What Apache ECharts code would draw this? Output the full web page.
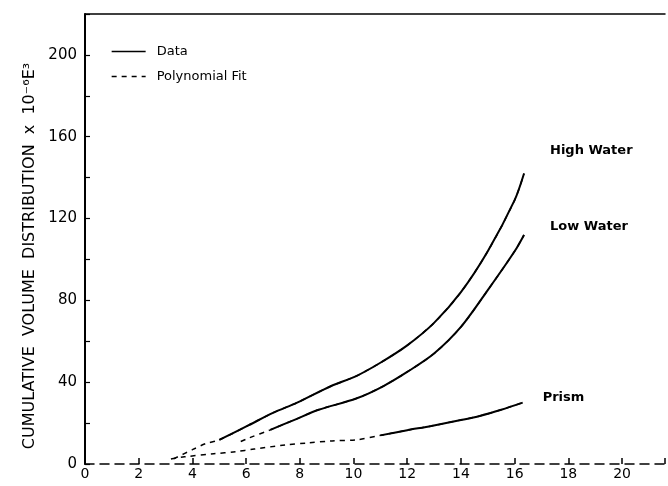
<!DOCTYPE html>
<html>
<head>
<meta charset="utf-8">
<script src="https://cdn.jsdelivr.net/npm/echarts@6/dist/echarts.min.js"></script>
<style>html,body{margin:0;padding:0;background:#fff}#c{width:668px;height:486px}</style>
</head>
<body>
<div id="c"></div>
<script>
// Axis tick values
const xTicks = [0, 2, 4, 6, 8, 10, 12, 14, 16, 18, 20];
const yTicks = [0, 40, 80, 120, 160, 200];

// High Water
const highFitX  = [3.3, 4.0, 4.5, 5.0, 6.1, 7.0, 7.9, 9.15, 10.1, 11.0, 12.0, 13.0, 14.0, 15.0, 16.0, 16.35];
const highFitY  = [2.5, 7.0, 10.0, 11.8, 19.0, 25.0, 30.0, 38.0, 43.0, 49.5, 58.0, 69.0, 84.0, 104.0, 129.0, 142.0];
const highDataX = [5.0, 6.1, 7.0, 7.9, 9.15, 10.1, 11.0, 12.0, 13.0, 14.0, 15.0, 16.0, 16.35];
const highDataY = [11.8, 19.0, 25.0, 30.0, 38.0, 43.0, 49.5, 58.0, 69.0, 84.0, 104.0, 129.0, 142.0];

// Low Water
const lowFitX  = [5.8, 6.1, 6.9, 7.8, 8.7, 10.1, 11.1, 12.0, 13.0, 14.0, 15.0, 16.0, 16.35];
const lowFitY  = [11.0, 12.7, 16.7, 21.6, 26.5, 32.0, 38.0, 45.0, 54.0, 67.0, 85.0, 104.0, 112.0];
const lowDataX = [6.9, 7.8, 8.7, 10.1, 11.1, 12.0, 13.0, 14.0, 15.0, 16.0, 16.35];
const lowDataY = [16.7, 21.6, 26.5, 32.0, 38.0, 45.0, 54.0, 67.0, 85.0, 104.0, 112.0];

// Prism
const prismFitX  = [3.2, 3.7, 4.8, 5.6, 6.3, 7.45, 8.3, 9.2, 10.1, 11.0, 12.0, 12.9, 14.0, 14.7, 15.5, 16.3];
const prismFitY  = [2.5, 3.5, 5.0, 6.0, 7.3, 9.3, 10.3, 11.3, 11.8, 14.0, 16.5, 18.6, 21.5, 23.5, 26.5, 30.0];
const prismDataX = [11.0, 12.0, 12.9, 14.0, 14.7, 15.5, 16.3];
const prismDataY = [14.0, 16.5, 18.6, 21.5, 23.5, 26.5, 30.0];

const curveLabels = ['High Water', 'Low Water', 'Prism'];
const legendNames = ['Data', 'Polynomial Fit'];
const yTitle = 'CUMULATIVE  VOLUME  DISTRIBUTION  x  10⁻⁶E³';

const zip = (xs, ys) => xs.map((x, i) => [x, ys[i]]);
const FONT = 'DejaVu Sans';

function dataSeries(xs, ys, label, offset) {
  return {
    type: 'line', name: legendNames[0], data: zip(xs, ys), symbol: 'none',
    smooth: 0.3,
    lineStyle: { color: '#000', width: 2, type: 'solid' },
    itemStyle: { color: '#000' },
    endLabel: { show: true, formatter: label, offset: offset, color: '#000',
      fontFamily: FONT, fontSize: 13, fontWeight: 'bold' },
    z: 3
  };
}
function fitSeries(xs, ys) {
  return {
    type: 'line', name: legendNames[1], data: zip(xs, ys), symbol: 'none',
    smooth: 0.3,
    lineStyle: { color: '#000', width: 1.5, type: [5, 5] },
    itemStyle: { color: '#000' },
    z: 2
  };
}

const chart = echarts.init(document.getElementById('c'), null, { renderer: 'canvas' });
chart.setOption({
  animation: false,
  backgroundColor: '#fff',
  grid: { left: 85, top: 14, right: 0, bottom: 22 },
  legend: {
    data: legendNames, orient: 'vertical', left: 106, top: 40,
    itemWidth: 34, itemHeight: 14, itemGap: 12,
    itemStyle: { opacity: 0 },
    lineStyle: { width: 1.3 },
    textStyle: { color: '#000', fontFamily: FONT, fontSize: 13, padding: [0, 0, 0, 6] }
  },
  xAxis: [{
    type: 'value', min: 0, max: 21.6, interval: 2,
    axisLine: { show: true, lineStyle: { color: '#000', width: 1.5, type: [9, 6] } },
    axisTick: { show: true, inside: true, length: 6, lineStyle: { color: '#000', width: 1.5 } },
    axisLabel: { margin: 3, color: '#000', fontFamily: FONT, fontSize: 14,
      formatter: v => xTicks.includes(v) ? String(v) : '' },
    splitLine: { show: false }
  }, {
    type: 'value', position: 'top', min: 0, max: 21.6,
    axisLine: { show: true, lineStyle: { color: '#000', width: 1.5 } },
    axisTick: { show: false }, axisLabel: { show: false }, splitLine: { show: false }
  }],
  yAxis: {
    type: 'value', min: 0, max: 220, interval: 20,
    name: yTitle, nameLocation: 'middle', nameGap: 45,
    nameTextStyle: { color: '#000', fontFamily: FONT, fontSize: 16, padding: [0, 34, 0, 0] },
    axisLine: { show: true, lineStyle: { color: '#000', width: 2 } },
    axisTick: { show: true, inside: true, length: 5, lineStyle: { color: '#000', width: 1.2 } },
    axisLabel: { margin: 8, color: '#000', fontFamily: FONT, fontSize: 15,
      formatter: v => yTicks.includes(v) ? String(v) : '' },
    splitLine: { show: false }
  },
  series: [
    fitSeries(highFitX, highFitY),
    fitSeries(lowFitX, lowFitY),
    fitSeries(prismFitX, prismFitY),
    dataSeries(highDataX, highDataY, curveLabels[0], [18, -23]),
    dataSeries(lowDataX, lowDataY, curveLabels[1], [18, -8]),
    dataSeries(prismDataX, prismDataY, curveLabels[2], [12, -5])
  ]
});
</script>
</body>
</html>
